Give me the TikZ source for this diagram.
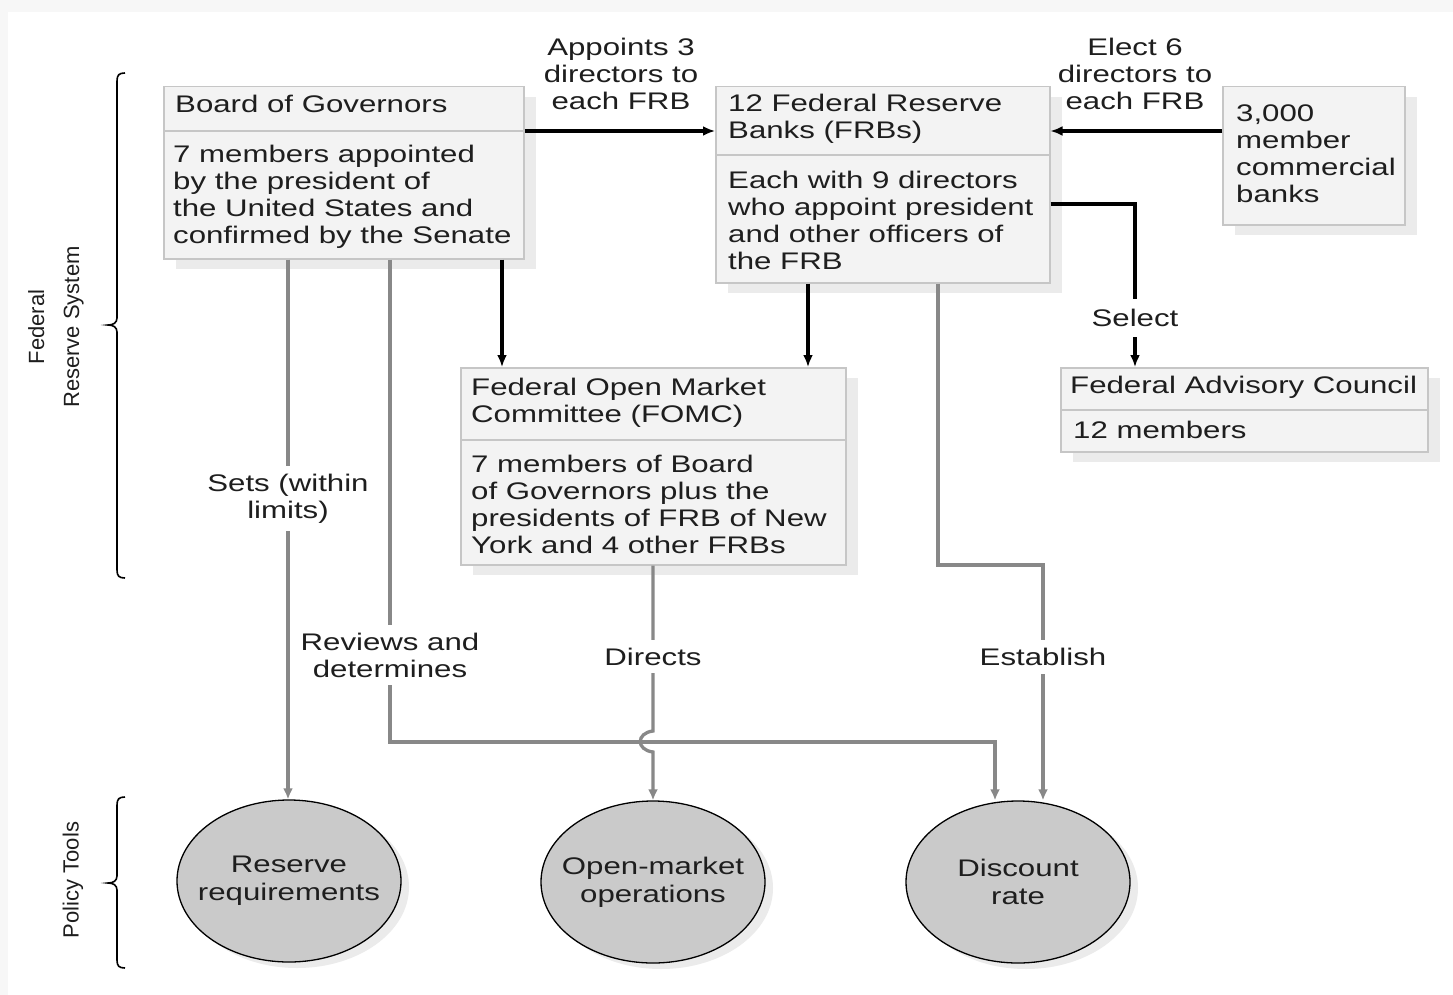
\documentclass[tikz,border=0pt]{standalone}
\usepackage{fontspec}
\setmainfont{Liberation Sans}[FakeStretch=1.3]
\newfontfamily\plainsans{Liberation Sans}
\usetikzlibrary{arrows.meta,shadows,shapes.geometric}
\definecolor{boxfill}{HTML}{F3F3F3}
\definecolor{boxline}{HTML}{C6C6C6}
\definecolor{shadowc}{HTML}{EBEBEB}
\definecolor{ellfill}{HTML}{CACACA}
\definecolor{gline}{HTML}{888888}
\definecolor{txt}{HTML}{1E1E1E}
\definecolor{framec}{HTML}{F7F7F7}
\tikzset{
  box/.style={draw=boxline, fill=boxfill, line width=1.5pt, inner sep=0pt, anchor=north west,
    drop shadow={shadow xshift=12pt, shadow yshift=-10pt, fill=shadowc, opacity=1}},
  divline/.style={draw=boxline, line width=1.5pt},
  txtnode/.style={inner sep=0pt, anchor=north west, align=left, text=txt,
    font=\fontsize{24}{27}\selectfont},
  lbl/.style={inner sep=0pt, align=center, text=txt, font=\fontsize{24}{27}\selectfont},
  glbl/.style={fill=white, inner xsep=2pt, inner ysep=8pt, align=center, text=txt,
    font=\fontsize{24}{27}\selectfont},
  tool/.style={ellipse, draw=black, line width=1.3pt, fill=ellfill, inner xsep=-40pt, inner ysep=0pt,
    minimum width=224pt, minimum height=162pt, align=center, text=txt,
    font=\fontsize{24}{28}\selectfont,
    drop shadow={shadow xshift=8pt, shadow yshift=-6pt, fill=shadowc, opacity=1}},
  bline/.style={draw=black, line width=3.2pt, -{Latex[length=12pt,width=10pt]}},
  gconn/.style={draw=gline, line width=3.3pt, -{Latex[length=11pt,width=10pt]}},
  sidelbl/.style={rotate=90, inner sep=0pt, align=center, text=txt,
    font=\plainsans\fontsize{22}{35}\selectfont},
  bracec/.style={draw=black, line width=1.6pt},
}
\begin{document}
\begin{tikzpicture}[x=1pt,y=-1pt]
\useasboundingbox (0,0) rectangle (1453,995);
\fill[framec] (0,0) rectangle (1453,995);
\fill[white] (8,12) rectangle (1453,995);

% ---------- boxes ----------
\node[box, minimum width=360pt, minimum height=172pt] (bog) at (163,86) {};
\draw[divline] (bog.west |- 0,131) -- (bog.east |- 0,131);
\node[txtnode] (bogt) at (175,95) {Board of Governors};
\node[txtnode] (bogb) at (173,145) {7 members appointed\\by the president of\\the United States and\\confirmed by the Senate};

\node[box, minimum width=334pt, minimum height=196pt] (frb) at (715,86) {};
\draw[divline] (frb.west |- 0,155) -- (frb.east |- 0,155);
\node[txtnode] (frbt) at (728,94) {12 Federal Reserve\\Banks (FRBs)};
\node[txtnode] (frbb) at (728,171) {Each with 9 directors\\who appoint president\\and other officers of\\the FRB};

\node[box, minimum width=182pt, minimum height=138pt] (mcb) at (1222,86) {};
\node[txtnode] (mcbt) at (1236,105) {3,000\\member\\commercial\\banks};

\node[box, minimum width=367pt, minimum height=84pt] (fac) at (1060,367) {};
\draw[divline] (fac.west |- 0,410) -- (fac.east |- 0,410);
\node[txtnode] (fact) at (1070,376) {Federal Advisory Council};
\node[txtnode] (facb) at (1073,421) {12 members};

\node[box, minimum width=385pt, minimum height=197pt] (fomc) at (460,367) {};
\draw[divline] (fomc.west |- 0,440) -- (fomc.east |- 0,440);
\node[txtnode] (fomct) at (471,378) {Federal Open Market\\Committee (FOMC)};
\node[txtnode] (fomcb) at (471,455) {7 members of Board\\of Governors plus the\\presidents of FRB of New\\York and 4 other FRBs};

% ---------- policy tools ----------
\node[tool] (rr) at (289,881) {Reserve\\requirements};
\node[tool] (om) at (653,882) {Open-market\\operations};
\node[tool] (dr) at (1018,882) {Discount\\rate};

% ---------- black connectors ----------
\draw[bline] (bog.east |- 0,131) -- (frb.west |- 0,131);
\node[lbl, anchor=north] (applbl) at (621,38) {Appoints 3\\directors to\\each FRB};
\draw[bline] (mcb.west |- 0,131) -- (frb.east |- 0,131);
\node[lbl, anchor=north] (elelbl) at (1135,38) {Elect 6\\directors to\\each FRB};
\draw[bline] (502,0 |- bog.south) -- (502,0 |- fomc.north);
\draw[bline] (808,0 |- frb.south) -- (808,0 |- fomc.north);
\draw[bline] (frb.east |- 0,204) -- (1135,204) -- (1135,0 |- fac.north)
  node[pos=0.70, fill=white, inner xsep=3pt, inner ysep=10pt, text=txt, font=\fontsize{24}{27}\selectfont] (sel) {Select};

% ---------- gray connectors ----------
\draw[gconn] (288,0 |- bog.south) -- (288,0 |- rr.north)
  node[pos=0.443, glbl] (sets) {Sets (within\\limits)};
\draw[gconn] (390,0 |- bog.south) -- (390,742)
  node[pos=0.82, glbl] (rev) {Reviews and\\determines}
  -- (995,742) -- (995,0 |- dr.north);
\draw[gconn] (653,0 |- fomc.south) -- (653,731)
  node[pos=0.55, glbl] (dirl) {Directs}
  .. controls (636,733) and (636,750) .. (653,752) -- (653,0 |- om.north);
\draw[gconn] (938,0 |- frb.south) -- (938,565) -- (1043,565) -- (1043,0 |- dr.north)
  node[pos=0.39, glbl] (est) {Establish};

% ---------- braces ----------
\draw[bracec] (125,73) .. controls (119,73) and (117,75) .. (117,81) -- (117,318)
  .. controls (117,323) and (113,325) .. (108,325)
  .. controls (113,325) and (117,327) .. (117,332) -- (117,570)
  .. controls (117,576) and (119,578) .. (125,578);
\node[sidelbl] (frslbl) at (56,327) {Federal\\Reserve System};
\draw[bracec] (125,797) .. controls (119,797) and (117,799) .. (117,805) -- (117,876)
  .. controls (117,881) and (113,883) .. (108,883)
  .. controls (113,883) and (117,885) .. (117,890) -- (117,960)
  .. controls (117,966) and (119,968) .. (125,968);
\node[sidelbl] (ptlbl) at (73,880) {Policy Tools};
\end{tikzpicture}
\end{document}
